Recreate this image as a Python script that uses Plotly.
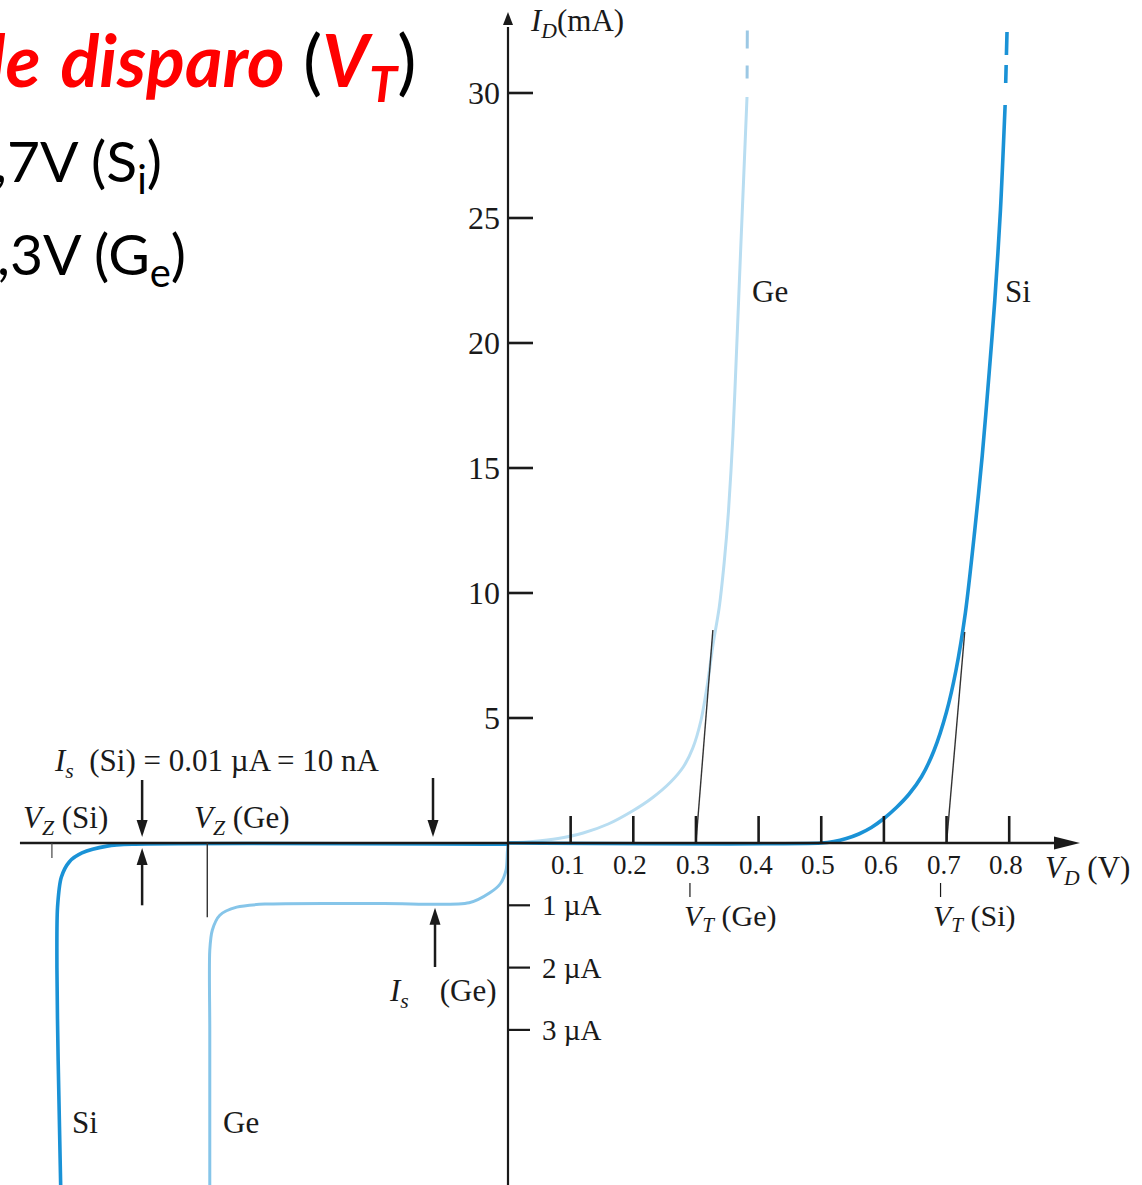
import plotly.graph_objects as go

# ---------------- data ----------------
# forward characteristics: V_D in volts, I_D in mA
ge_fwd_v = [0.0, 0.04, 0.08, 0.12, 0.16, 0.20, 0.23, 0.26, 0.28, 0.295, 0.308,
            0.318, 0.327, 0.337, 0.345, 0.352, 0.359, 0.365, 0.371, 0.376, 0.3815]
ge_fwd_ma = [0.0, 0.06, 0.18, 0.40, 0.76, 1.3, 1.8, 2.45, 3.05, 3.8, 4.9,
             6.3, 7.9, 9.4, 11.2, 13.3, 16.3, 19.8, 23.5, 26.5, 29.84]
si_fwd_v = [0.0, 0.50, 0.52, 0.54, 0.56, 0.58, 0.60, 0.62, 0.64, 0.66, 0.68,
            0.70, 0.715, 0.73, 0.745, 0.757, 0.768, 0.777, 0.786, 0.7935]
si_fwd_ma = [0.0, 0.0, 0.06, 0.18, 0.36, 0.62, 0.98, 1.42, 1.95, 2.65, 3.7,
             5.25, 6.9, 9.2, 12.5, 15.5, 18.8, 21.7, 25.3, 29.52]

# continuation of the curves beyond the plotted range (dashed)
ge_dash_v = [0.382, 0.3815]
ge_dash_ma = [32.5, 29.84]
si_dash_v = [0.7965, 0.7935]
si_dash_ma = [32.44, 29.52]

# reverse characteristics: schematic voltage axis, current in µA
si_rev_v = [0.0, -0.600, -0.640, -0.680, -0.700, -0.713, -0.719, -0.720, -0.718, -0.714]
si_rev_ua = [-0.02, -0.02, -0.05, -0.16, -0.30, -0.55, -1.03, -2.0, -3.5, -5.5]
ge_rev_v = [0.0, -0.001, -0.003, -0.012, -0.029, -0.062, -0.20, -0.388,
            -0.433, -0.460, -0.472, -0.476, -0.476, -0.476]
ge_rev_ua = [0.0, -0.15, -0.43, -0.65, -0.80, -0.96, -0.97, -0.98,
             -1.03, -1.16, -1.40, -1.72, -3.0, -5.5]

# threshold construction lines
vt_ge_v = [0.3, 0.327]
vt_ge_ma = [0.0, 8.52]
vt_si_v = [0.7, 0.729]
vt_si_ma = [0.0, 8.44]

# breakdown (V_Z) markers on the reverse side
vz_si_v = -0.728
vz_ge_v = -0.480
vz_si_depth_ua = -0.24
vz_ge_depth_ua = -1.19

# axis ticks
x_ticks = [0.1, 0.2, 0.3, 0.4, 0.5, 0.6, 0.7, 0.8]
x_tick_labels = ["0.1", "0.2", "0.3", "0.4", "0.5", "0.6", "0.7", "0.8"]
y_ticks_ma = [5, 10, 15, 20, 25, 30]
y_tick_labels_ma = ["5", "10", "15", "20", "25", "30"]
y_ticks_ua = [-1, -2, -3]
y_tick_labels_ua = ["1 µA", "2 µA", "3 µA"]
vt_marks = [0.3, 0.7]
vt_labels = ["<i>V<sub>T</sub></i> (Ge)", "<i>V<sub>T</sub></i> (Si)"]

# ---------------- styling ----------------
SI_BLUE = "#1a92d6"
GE_FWD = "#b8ddf1"
GE_REV = "#86c5e9"
INK = "#1a1a1a"
SERIF = "Liberation Serif"
SANS = "Lato"

X_RANGE = [-0.81085, 1.01197]
MA_RANGE = [-4.2, 33.72]
UA_RANGE = [-5.4896, 2.1188]
X_AXIS_START = -0.779
X_AXIS_TIP = 0.913
Y_AXIS_TIP = 33.24

fig = go.Figure()

def line_trace(x, y, color, width, yaxis="y", dash="solid", shape="spline"):
    fig.add_trace(go.Scatter(
        x=x, y=y, mode="lines", yaxis=yaxis, hoverinfo="skip",
        line=dict(color=color, width=width, dash=dash, shape=shape, smoothing=0.8),
        showlegend=False))

# reverse curves (µA axis)
line_trace(ge_rev_v, ge_rev_ua, GE_REV, 3, yaxis="y2")
line_trace(si_rev_v, si_rev_ua, SI_BLUE, 3.6, yaxis="y2")
# forward curves (mA axis)
line_trace(ge_fwd_v, ge_fwd_ma, GE_FWD, 3)
line_trace(si_fwd_v, si_fwd_ma, SI_BLUE, 3.6)
line_trace(ge_dash_v, ge_dash_ma, "#9cc8e4", 3, dash="18px,17px,13px,19px", shape="linear")
line_trace(si_dash_v, si_dash_ma, SI_BLUE, 3.6, dash="23px,10px,18px,22px", shape="linear")
# tangent construction lines
line_trace(vt_ge_v, vt_ge_ma, "#333333", 1.4, shape="linear")
line_trace(vt_si_v, vt_si_ma, "#333333", 1.4, shape="linear")

shapes = []

def seg(x0, y0, x1, y1, yref="y", width=2.5, color=INK):
    shapes.append(dict(type="line", xref="x", yref=yref, x0=x0, y0=y0, x1=x1, y1=y1,
                       line=dict(color=color, width=width), layer="above"))

def head(x, y, path, yref="y"):
    shapes.append(dict(type="path", xref="x", yref=yref, xsizemode="pixel",
                       ysizemode="pixel", xanchor=x, yanchor=y, path=path,
                       fillcolor=INK, line=dict(width=0), layer="above"))

# axes
seg(X_AXIS_START, 0, X_AXIS_TIP - 0.02, 0, width=2.6)
head(X_AXIS_TIP, 0, "M0,0 L-26,6.5 L-26,-6.5 Z")
seg(0, 0, 0, Y_AXIS_TIP - 0.6, width=2.2)
seg(0, UA_RANGE[0], 0, 0, yref="y2", width=2.2)
head(0, Y_AXIS_TIP, "M0,0 L-5,-13 L5,-13 Z")

# ticks
for v in x_ticks:
    shapes.append(dict(type="line", xref="x", yref="y", ysizemode="pixel", yanchor=0,
                       x0=v, x1=v, y0=0, y1=27, line=dict(color=INK, width=2.6)))
for v in y_ticks_ma:
    shapes.append(dict(type="line", xref="x", yref="y", xsizemode="pixel", xanchor=0,
                       x0=0, x1=25, y0=v, y1=v, line=dict(color=INK, width=2.6)))
for v in y_ticks_ua:
    shapes.append(dict(type="line", xref="x", yref="y2", xsizemode="pixel", xanchor=0,
                       x0=0, x1=22, y0=v, y1=v, line=dict(color=INK, width=2.2)))
for v in vt_marks:
    shapes.append(dict(type="line", xref="x", yref="y", xsizemode="pixel",
                       ysizemode="pixel", xanchor=v, yanchor=0,
                       x0=-6, x1=-6, y0=-40, y1=-54, line=dict(color=INK, width=1.2)))

# V_Z markers
seg(vz_si_v, 0, vz_si_v, vz_si_depth_ua, yref="y2", width=1.2, color="#444444")
seg(vz_ge_v, 0, vz_ge_v, vz_ge_depth_ua, yref="y2", width=1.4, color="#333333")

# saturation current pointers
seg(-0.584, 2.52, -0.584, 0.5)
head(-0.584, 0.24, "M0,0 L-5.5,17 L5.5,17 Z")
seg(-0.584, -1.0, -0.584, -0.3, yref="y2")
head(-0.584, -0.08, "M0,0 L-5.5,-17 L5.5,-17 Z", yref="y2")
seg(-0.1197, 2.6, -0.1197, 0.5)
head(-0.1197, 0.24, "M0,0 L-5.5,17 L5.5,17 Z")
seg(-0.1165, -1.99, -0.1165, -1.3, yref="y2")
head(-0.1165, -1.04, "M0,0 L-5.5,-17 L5.5,-17 Z", yref="y2")

annotations = []

def label(text, x, y, yref="y", size=30, xanchor="center", xshift=0, yshift=0,
          color=INK, family=SERIF):
    annotations.append(dict(text=text, x=x, y=y, xref="x", yref=yref, showarrow=False,
                            xanchor=xanchor, yanchor="middle", xshift=xshift,
                            yshift=yshift, font=dict(family=family, size=size, color=color)))

for v, t in zip(y_ticks_ma, y_tick_labels_ma):
    label(t, 0, v, xanchor="right", xshift=-6, size=32)
for v, t in zip(x_ticks, x_tick_labels):
    label(t, v, 0, xshift=-3, yshift=-22, size=27)
for v, t in zip(y_ticks_ua, y_tick_labels_ua):
    label(t, 0, v, yref="y2", xanchor="left", xshift=32, size=29)
for v, t in zip(vt_marks, vt_labels):
    label(t, v, 0, xshift=34 if v < 0.5 else 28, yshift=-75, size=30)

label("<i>I<sub>D</sub></i>(mA)", 0.032, 32.8, xanchor="left", size=31)
label("<i>V<sub>D</sub></i> (V)", 0.854, -0.43, yref="y2", xanchor="left", size=31)
label("Ge", 0.418, 22.08, size=31)
label("Si", 0.814, 22.08, size=31)
label("<i>I<sub>s</sub></i>\u00a0 (Si) = 0.01 µA = 10 nA", -0.4645, 3.2, size=31)
label("<i>V<sub>Z</sub></i> (Si)", -0.707, 0.92, size=31)
label("<i>V<sub>Z</sub></i> (Ge)", -0.424, 0.92, size=31)
label("<i>I<sub>s</sub></i>\u00a0\u00a0\u00a0 (Ge)", -0.104, -2.41, yref="y2", size=31)
label("Si", -0.675, -4.48, yref="y2", size=31)
label("Ge", -0.426, -4.48, yref="y2", size=31)

# slide heading text at the top left
RED = "#ff0000"
annotations.append(dict(
    text=(f"<span style='color:{RED}'><b><i>Tensão de\u200a disparo</i></b></span> "
          f"(<span style='color:{RED}'><b><i>V<sub>T</sub></i></b></span>)"),
    x=418 / 1142, y=1 - 64 / 1185, xref="paper", yref="paper", showarrow=False,
    xanchor="right", yanchor="middle", font=dict(family=SANS, size=72, color="#000000")))
annotations.append(dict(
    text="<i>V<sub>T</sub></i> = 0,7V (S<sub>i</sub>)",
    x=164 / 1142, y=1 - 164 / 1185, xref="paper", yref="paper", showarrow=False,
    xanchor="right", yanchor="middle", font=dict(family=SANS, size=57, color="#000000")))
annotations.append(dict(
    text="<i>V<sub>T</sub></i> = 0,3V (G<sub>e</sub>)",
    x=188 / 1142, y=1 - 257 / 1185, xref="paper", yref="paper", showarrow=False,
    xanchor="right", yanchor="middle", font=dict(family=SANS, size=57, color="#000000")))

fig.update_layout(
    width=1142, height=1185, margin=dict(l=0, r=0, t=0, b=0),
    paper_bgcolor="white", plot_bgcolor="rgba(0,0,0,0)",
    xaxis=dict(domain=[0, 1], range=X_RANGE, visible=False, fixedrange=True),
    yaxis=dict(domain=[0.2, 1.0], range=MA_RANGE, visible=False, fixedrange=True),
    yaxis2=dict(domain=[0.0, 0.4], range=UA_RANGE, visible=False, fixedrange=True,
                anchor="x"),
    shapes=shapes, annotations=annotations, showlegend=False,
)

fig.write_html("out.html")
